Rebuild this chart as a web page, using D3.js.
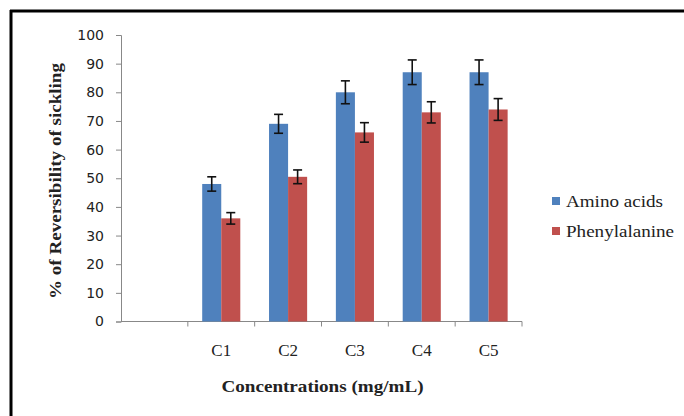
<!DOCTYPE html>
<html><head><meta charset="utf-8">
<script src="https://cdn.jsdelivr.net/npm/d3@7"></script>
<style>html,body{margin:0;padding:0;background:#fff;}svg{display:block;}</style>
</head><body>
<svg id="chart" width="684" height="416"></svg>
<script>
const categories = ["", "C1", "C2", "C3", "C4", "C5"];
const seriesNames = ["Amino acids", "Phenylalanine"];
const aminoAcids = [null, 48, 69, 80, 87, 87];
const aminoErr = [null, 2.5, 3.3, 4, 4.3, 4.3];
const phenylalanine = [null, 36, 50.5, 66, 73, 74];
const phenylErr = [null, 2, 2.4, 3.4, 3.7, 3.8];
const yTicks = [0, 10, 20, 30, 40, 50, 60, 70, 80, 90, 100];
const xTitle = "Concentrations (mg/mL)";
const yTitle = "% of Reversibility of sickling";

const colors = ["#4F81BD", "#C0504D"];
const svg = d3.select("#chart");
svg.append("rect").attr("width",684).attr("height",416).attr("fill","#fff");
// partial frame (top and left)
svg.append("line").attr("x1",10).attr("x2",684).attr("y1",11).attr("y2",11).attr("stroke","#000").attr("stroke-width",3);
svg.append("line").attr("x1",11).attr("x2",11).attr("y1",10).attr("y2",416).attr("stroke","#000").attr("stroke-width",3);

const x0 = 121, x1 = 522, yBottom = 321.5, yTop = 35;
const x = d3.scaleBand().domain(categories.map((c,i)=>i)).range([x0, x1]).paddingInner(0).paddingOuter(0);
const y = d3.scaleLinear().domain([0,100]).range([yBottom, yTop]);
const groupW = x.bandwidth() * 0.57;
const xs = d3.scaleBand().domain([0,1]).range([0, groupW]);

const axisColor = "#888";
// y axis
const yAxis = svg.append("g").attr("transform",`translate(${x0},0)`)
  .call(d3.axisLeft(y).tickValues(yTicks).tickSize(5).tickPadding(12));
yAxis.select(".domain").attr("stroke",axisColor);
yAxis.selectAll(".tick line").attr("stroke",axisColor);
yAxis.selectAll(".tick text").attr("font-family","DejaVu Sans, Verdana, sans-serif").attr("font-size","14px").attr("fill","#222");

// x axis
const xAxisG = svg.append("g").attr("transform",`translate(0,${yBottom})`);
xAxisG.append("line").attr("x1",x0).attr("x2",x1).attr("y1",0).attr("y2",0).attr("stroke",axisColor);
xAxisG.selectAll("line.tk").data(categories).join("line").attr("class","tk")
  .attr("x1",(d,i)=>x(i)+x.bandwidth()).attr("x2",(d,i)=>x(i)+x.bandwidth())
  .attr("y1",0).attr("y2",5).attr("stroke",axisColor);
xAxisG.selectAll("text").data(categories).join("text")
  .attr("x",(d,i)=>x(i)+x.bandwidth()/2).attr("y",34)
  .attr("text-anchor","middle").attr("font-family","Liberation Serif, Times New Roman, serif")
  .attr("font-size","17px").attr("fill","#222").text(d=>d);

// bars
const series = [{v:aminoAcids,e:aminoErr},{v:phenylalanine,e:phenylErr}];
series.forEach((s,si)=>{
  const data = categories.map((c,i)=>({i, v:s.v[i], e:s.e[i]})).filter(d=>d.v!=null);
  const bx = d=> x(d.i) + (x.bandwidth()-groupW)/2 + xs(si);
  svg.append("g").selectAll("rect").data(data).join("rect")
    .attr("x",bx).attr("width",xs.bandwidth())
    .attr("y",d=>y(d.v)).attr("height",d=>y(0)-y(d.v)).attr("fill",colors[si]);
  const eg = svg.append("g").attr("stroke","#111").attr("stroke-width",1.6);
  data.forEach(d=>{
    const cx = bx(d)+xs.bandwidth()/2;
    eg.append("line").attr("x1",cx).attr("x2",cx).attr("y1",y(d.v+d.e)).attr("y2",y(d.v-d.e));
    eg.append("line").attr("x1",cx-4.5).attr("x2",cx+4.5).attr("y1",y(d.v+d.e)).attr("y2",y(d.v+d.e));
    eg.append("line").attr("x1",cx-4.5).attr("x2",cx+4.5).attr("y1",y(d.v-d.e)).attr("y2",y(d.v-d.e));
  });
});

// axis titles
svg.append("text").attr("x",(x0+x1)/2+1).attr("y",392).attr("text-anchor","middle")
  .attr("font-family","Liberation Serif, Times New Roman, serif").attr("font-weight","bold")
  .attr("font-size","17px").attr("fill","#222").attr("textLength",202).attr("lengthAdjust","spacingAndGlyphs").text(xTitle);
svg.append("text").attr("transform","translate(61,181) rotate(-90)").attr("text-anchor","middle")
  .attr("font-family","Liberation Serif, Times New Roman, serif").attr("font-weight","bold")
  .attr("font-size","16px").attr("fill","#222").attr("textLength",236).attr("lengthAdjust","spacingAndGlyphs").text(yTitle);

// legend
const legend = svg.append("g");
const legendLens = [97, 108];
seriesNames.forEach((n,i)=>{
  const ly = 201 + i*30;
  legend.append("rect").attr("x",552).attr("y",ly-4).attr("width",8).attr("height",8).attr("fill",colors[i]);
  legend.append("text").attr("x",566).attr("y",ly+6).attr("font-family","Liberation Serif, Times New Roman, serif")
    .attr("font-size","16px").attr("fill","#222").attr("textLength",legendLens[i]).attr("lengthAdjust","spacingAndGlyphs").text(n);
});
</script>
</body></html>
